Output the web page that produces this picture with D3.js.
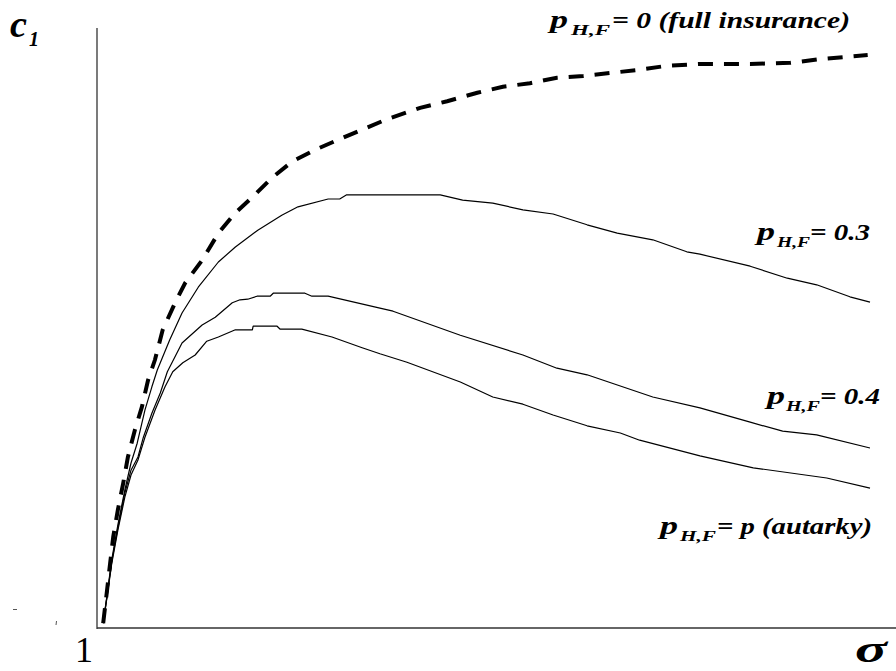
<!DOCTYPE html>
<html>
<head>
<meta charset="utf-8">
<script src="https://cdn.jsdelivr.net/npm/d3@7"></script>
<style>
  html, body { margin: 0; padding: 0; background: #fff; }
  svg { display: block; }
</style>
</head>
<body>
<svg id="chart" width="896" height="671"></svg>
<script>
// ---- data (abstract units: x = sigma index 0..100, y = c1 index 0..100) ----
const fullInsurance = [
  [0.8,0.8],[1.3,6.3],[1.7,10.8],[2.1,15.2],[2.7,19.7],[3.4,24.2],[4.0,28.5],[4.9,33.0],
  [5.8,36.8],[6.6,41.3],[7.5,44.7],[8.5,49.7],[10.1,54.2],[11.4,57.5],[13.6,61.3],[15.7,65.8],
  [17.9,69.2],[20.1,71.8],[22.6,75.0],[25.2,77.7],[28.2,79.7],[32.7,82.2],[37.5,84.8],[41.8,86.7],
  [45.3,87.8],[49.2,89.2],[52.5,90.2],[56.0,90.8],[59.5,91.7],[62.9,92.0],[66.4,92.5],[69.9,93.0],
  [73.7,93.7],[78.0,94.0],[84.5,94.0],[89.7,94.2],[93.5,94.8],[99.7,95.5]
];
const p03 = [
  [0.8,0.8],[1.3,5.5],[1.9,11.3],[2.7,17.2],[3.6,23.0],[4.4,27.5],[5.2,30.8],[6.2,36.3],
  [7.1,40.2],[7.8,43.0],[9.4,48.0],[11.0,52.5],[13.1,56.8],[15.7,61.0],[17.9,63.5],[20.8,66.3],
  [23.9,68.8],[26.0,70.2],[29.9,71.5],[31.4,71.5],[32.3,72.2],[38.6,72.2],[44.4,72.2],[47.3,71.3],
  [51.2,70.8],[55.1,69.7],[59.0,69.0],[63.4,67.2],[67.3,65.8],[71.9,64.7],[76.3,62.7],[78.0,62.3],
  [84.5,60.3],[89.3,58.3],[93.1,57.2],[97.4,55.2],[100,54.3]
];
const p04 = [
  [0.8,0.8],[1.3,5.3],[1.9,11.0],[2.7,16.7],[3.6,22.5],[4.4,26.3],[5.3,28.5],[6.0,31.8],
  [7.1,35.8],[8.2,39.2],[9.1,42.7],[11.0,47.5],[13.6,50.5],[15.3,51.8],[17.5,54.2],[18.5,54.7],
  [19.5,54.8],[20.7,55.3],[22.4,55.3],[22.8,55.8],[26.9,55.8],[27.8,55.3],[29.9,55.3],[36.6,53.3],
  [38.3,52.8],[47.0,48.8],[55.1,45.5],[59.5,43.3],[63.4,42.2],[71.9,38.5],[78.0,36.7],[84.5,34.3],
  [88.7,32.8],[93.1,32.2],[100,30.0]
];
const autarky = [
  [0.8,0.8],[1.3,5.2],[1.9,10.7],[2.7,16.3],[3.6,21.8],[4.4,25.5],[5.3,28.0],[6.2,31.8],
  [7.5,36.3],[8.8,40.2],[9.8,42.7],[11.1,44.2],[12.7,45.5],[14.2,47.8],[15.7,48.5],[17.9,49.7],
  [20.1,49.7],[20.2,50.3],[23.3,50.3],[23.7,49.8],[26.5,49.8],[30.4,48.5],[34.3,46.7],[36.6,45.7],
  [40.1,44.3],[47.0,41.0],[51.2,38.5],[55.1,37.3],[59.0,35.5],[63.4,33.7],[67.7,32.5],[70.2,31.3],
  [78.0,28.7],[84.9,26.7],[94.4,25.0],[100,23.3]
];
const labelMain = "p";
const labelSub = "H,F";
const labelRest = ["= 0 (full insurance)", "= 0.3", "= 0.4", "= p (autarky)"];
const xTickLabel = "1";
const xAxisLabel = "σ";
const yAxisLabel = { main: "c", sub: "1" };

// ---- layout of label pieces (pixel placement only) ----
const labelLayout = [
  { px: 550, sx: 571, sw: 39, rx: 612, rw: 238, y: 28 },
  { px: 757, sx: 777, sw: 33, rx: 810, rw: 60,  y: 240 },
  { px: 767, sx: 786, sw: 34, rx: 820, rw: 60,  y: 404 },
  { px: 660, sx: 680, sw: 36, rx: 717, rw: 155, y: 534 }
];

// ---- drawing ----
const FONT = "Liberation Serif";
const svg = d3.select("#chart");
const x = d3.scaleLinear().domain([0, 100]).range([97, 870]);
const y = d3.scaleLinear().domain([0, 100]).range([628, 28]);
const line = d3.line().x(d => x(d[0])).y(d => y(d[1]));

function bi(size, txt, px, py, width, anchor) {
  const t = svg.append("text").attr("x", px).attr("y", py)
    .attr("font-family", FONT).attr("font-weight", "bold")
    .attr("font-style", "italic").attr("font-size", size)
    .attr("text-anchor", anchor || "start").attr("fill", "#000").text(txt);
  if (width) t.attr("textLength", width).attr("lengthAdjust", "spacingAndGlyphs");
  return t;
}

// axes
svg.append("line").attr("x1", x(0)).attr("x2", x(0)).attr("y1", y(0) + 1).attr("y2", y(100))
  .attr("stroke", "#333").attr("stroke-width", 1.3);
svg.append("line").attr("x1", x(0)).attr("x2", 896).attr("y1", y(0)).attr("y2", y(0))
  .attr("stroke", "#333").attr("stroke-width", 1.5);

// small stray marks present in the original
svg.append("line").attr("x1", 13).attr("x2", 17).attr("y1", 609.5).attr("y2", 609.5)
  .attr("stroke", "#555").attr("stroke-width", 1);
svg.append("line").attr("x1", 56.5).attr("x2", 56).attr("y1", 621).attr("y2", 625)
  .attr("stroke", "#555").attr("stroke-width", 1);

// solid curves
[p03, p04, autarky].forEach(s => {
  svg.append("path").datum(s).attr("d", line)
    .attr("fill", "none").attr("stroke", "#000").attr("stroke-width", 1.2)
    .attr("stroke-linejoin", "round");
});
// dashed full-insurance curve
svg.append("path").datum(fullInsurance).attr("d", line)
  .attr("fill", "none").attr("stroke", "#000").attr("stroke-width", 4)
  .attr("stroke-dasharray", "15,11");

// series labels
labelRest.forEach((rest, i) => {
  const L = labelLayout[i];
  bi(26, labelMain, L.px, L.y, 18);
  bi(14, labelSub, L.sx, L.y + 7, L.sw);
  bi(23.5, rest, L.rx, L.y, L.rw);
});

// y label c1
bi(37, yAxisLabel.main, 10, 37, 17);
bi(22, yAxisLabel.sub, 29, 46, 10);

// x tick label "1"
svg.append("text").attr("x", 84).attr("y", 662).attr("text-anchor", "middle")
  .attr("font-family", FONT).attr("font-size", 36).text(xTickLabel);

// sigma
bi(38, xAxisLabel, 855, 662, 32);
</script>
</body>
</html>
